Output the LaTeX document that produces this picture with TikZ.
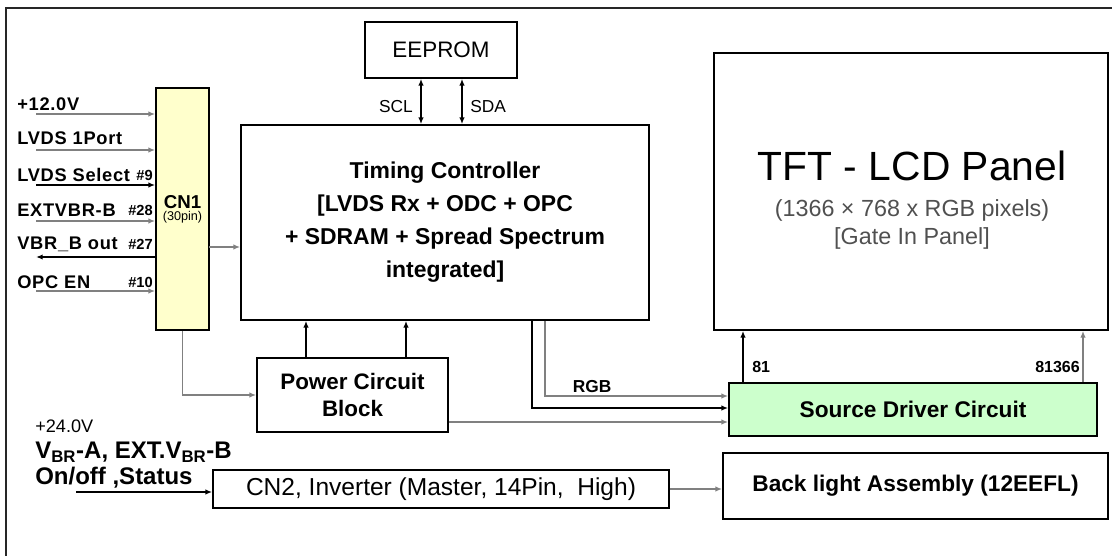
\documentclass[tikz,border=0pt]{standalone}
\usepackage{fontspec}
\setmainfont{Liberation Sans}
\usetikzlibrary{arrows.meta,positioning,calc}
\definecolor{cnyellow}{HTML}{FFFFCC}
\definecolor{drvgreen}{HTML}{CCFFCC}
\definecolor{linegray}{HTML}{808080}
\definecolor{txtgray}{HTML}{505050}
\newcommand{\fs}[2]{\fontsize{#1}{#2}\selectfont}

\begin{document}
\begin{tikzpicture}[x=0.75pt, y=-0.75pt,
  blk/.style={draw=black, line width=1.3pt, inner sep=2pt, align=center},
  conn/.style={line width=1.1pt, -{Latex[length=5pt,width=4pt]}},
  conngray/.style={conn, draw=linegray},
  connout/.style={line width=1.1pt, {Latex[length=5pt,width=4pt]}-},
  biconn/.style={line width=1.1pt, {Latex[length=5pt,width=4pt]}-{Latex[length=5pt,width=4pt]}},
  inlabel/.style={font=\bfseries\fs{13.7}{16}\addfontfeature{LetterSpace=4}, anchor=west, inner sep=0pt},
  pinlabel/.style={font=\bfseries\fs{11}{13}, anchor=east, inner sep=0pt},
  smalllabel/.style={font=\fs{13}{15}, inner sep=0pt},
  pinno/.style={font=\bfseries\fs{12}{14}, inner sep=0pt},
]
\useasboundingbox (0,0) rectangle (1112,556);
% outer frame (only top and left edge are in view)
\draw[line width=1.5pt, black!85] (1112,8) -- (6,8) -- (6,556);

% blocks
\node[blk, minimum width=114pt, minimum height=42pt, font=\fs{16.8}{20}] (eeprom) at (441,50) {EEPROM};
\node[blk, minimum width=306pt, minimum height=146.25pt, font=\bfseries\fs{17.2}{24.75}] (tcon) at (445,222.5)
  {Timing Controller\\{[}LVDS Rx + ODC + OPC\\+ SDRAM + Spread Spectrum\\integrated{]}};
\node[blk, fill=cnyellow, minimum width=39.75pt, minimum height=181.5pt, inner sep=0pt] (cn1) at (182.5,209)
  {\bfseries\fs{14}{15}CN1\\[-3pt]{\fs{9.5}{10}(30pin)}};
\node[blk, minimum width=295.5pt, minimum height=207.75pt] (panel) at (911,191.5) {};
\node[blk, minimum width=143.25pt, minimum height=55.5pt, font=\bfseries\fs{16.8}{20.5}] (power) at (352.5,395)
  {Power Circuit\\Block};
\node[blk, fill=drvgreen, minimum width=276pt, minimum height=39.75pt, font=\bfseries\fs{17}{20}] (sdrv) at (913,409.5)
  {Source Driver Circuit};
\node[blk, minimum width=342pt, minimum height=28.5pt, font=\fs{18.4}{20}] (cn2) at (441,489)
  {CN2, Inverter (Master, 14Pin,\ \ High)};
\node[blk, minimum width=288.75pt, minimum height=49.5pt, font=\bfseries\fs{17}{20}] (blight) at (915.5,486)
  {Back light Assembly (12EEFL)};

% panel texts
\node[font=\fs{30.6}{34}, inner sep=0pt] (pantitle) at (912,166) {TFT - LCD Panel};
\node[font=\fs{17.5}{20}, text=txtgray, inner sep=0pt] (pansize) at (912,210) {(1366 × 768 x RGB pixels)};
\node[font=\fs{17.5}{20}, text=txtgray, inner sep=0pt] (pangip) at (912,238) {{[}Gate In Panel{]}};

% CN1 inputs / outputs
\foreach \i/\st/\yl/\ya/\pin/\txt in {
  1/conngray/104/114/{}/{+12.0V},
  2/conngray/138/150/{}/{LVDS 1Port},
  3/conn/175/185/{\#9}/{LVDS Select},
  4/conngray/210/221/{\#28}/{EXTVBR-B},
  5/connout/244/257/{\#27}/{VBR\_B out},
  6/conngray/282/291/{\#10}/{OPC EN}} {
  \node[inlabel] (lab\i) at (17,\yl) {\txt};
  \node[pinlabel] (pin\i) at (153,\yl) {\pin};
  \coordinate (src\i) at (36,\ya);
  \draw[\st] (src\i) -- (src\i -| cn1.west);
}

% CN1 to timing controller and power block
\coordinate (cnout) at (209,247);
\draw[conngray] (cnout) -- (cnout -| tcon.west);
\draw[conngray] (cn1.south) |- (power.west);

% EEPROM bus
\coordinate (scl) at (421,0);
\coordinate (sda) at (462,0);
\draw[biconn] (scl |- eeprom.south) -- (scl |- tcon.north);
\draw[biconn] (sda |- eeprom.south) -- (sda |- tcon.north);
\node[smalllabel, anchor=east] (scllab) at (413,107) {SCL};
\node[smalllabel, anchor=west] (sdalab) at (470,107) {SDA};

% power to timing controller
\coordinate (pwa) at (306,0);
\coordinate (pwb) at (406,0);
\draw[conn] (pwa |- power.north) -- (pwa |- tcon.south);
\draw[conn] (pwb |- power.north) -- (pwb |- tcon.south);

% timing controller / power to source driver
\coordinate (ta) at (532,0);
\coordinate (tb) at (545,0);
\coordinate (ya) at (0,408);
\coordinate (yb) at (0,396);
\coordinate (yc) at (0,422);
\draw[conn] (ta |- tcon.south) |- (sdrv.west |- ya);
\draw[conngray] (tb |- tcon.south) |- (sdrv.west |- yb);
\draw[conngray] (power.east |- yc) -- (sdrv.west |- yc);
\node[font=\bfseries\fs{13}{15}, inner sep=0pt] (rgb) at (592,387) {RGB};

% source driver to panel
\coordinate (sfirst) at (743,0);
\coordinate (slast) at (1083,0);
\draw[conn] (sfirst |- sdrv.north) -- (sfirst |- panel.south);
\draw[conngray] (slast |- sdrv.north) -- (slast |- panel.south);
\node[pinno, anchor=west] (sfirstlab) at (752,367) {81};
\node[pinno, anchor=east] (slastlab) at (1080,367) {81366};

% inverter inputs
\node[font=\fs{13.6}{15}, anchor=west, inner sep=0pt] (v24) at (35,426) {+24.0V};
\node[font=\bfseries\fs{18}{20}, anchor=west, inner sep=0pt] (vbr) at (35,452) {V\textsubscript{BR}-A, EXT.V\textsubscript{BR}-B};
\node[font=\bfseries\fs{18}{20}, anchor=west, inner sep=0pt] (onoff) at (35,478) {On/off ,Status};
\coordinate (invin) at (76,492);
\draw[conn] (invin) -- (invin -| cn2.west);
\draw[conngray] (cn2.east) -- (cn2.east -| blight.west);
\end{tikzpicture}
\end{document}
